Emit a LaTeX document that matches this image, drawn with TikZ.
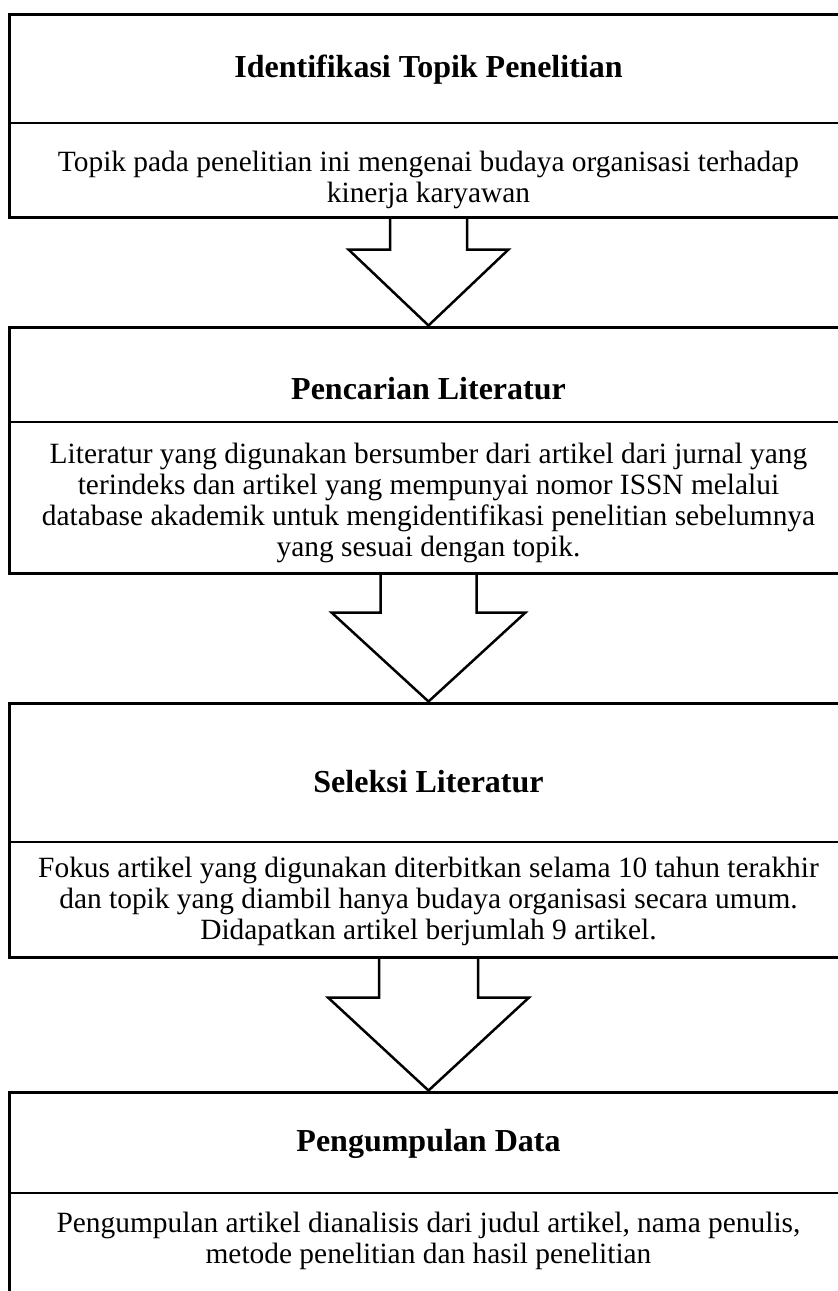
\documentclass[tikz,border=0pt]{standalone}
\usepackage{fontspec}
\setmainfont{Liberation Serif}
\usetikzlibrary{calc}

% panah blok: dari, ke, setengah badan, setengah kepala, tinggi badan
\newcommand{\panahblok}[5]{%
  \draw[panah] ($(#1.south)+(-#3,0)$) -- ($(#1.south)+(-#3,#5)$)
    -- ($(#1.south)+(-#4,#5)$) -- (#2.north) -- ($(#1.south)+(#4,#5)$)
    -- ($(#1.south)+(#3,#5)$) -- ($(#1.south)+(#3,0)$);}

\begin{document}
\begin{tikzpicture}[x=1pt, y=-1pt,
  kotak/.style = {draw, line width=3pt, inner sep=0pt, minimum width=839pt},
  judul/.style = {font=\bfseries\fontsize{32}{36}\selectfont},
  isi/.style = {align=center, font=\fontsize{29.4}{31}\selectfont},
  sekat/.style = {line width=2pt},
  panah/.style = {line width=2.5pt, line join=miter}]
\useasboundingbox[fill=white] (0,0) rectangle (838,1291);

\node[kotak, minimum height=203pt] (kotak1) at (428.5,115.5) {};
\node[kotak, minimum height=246pt] (kotak2) at (428.5,450) {};
\node[kotak, minimum height=254pt] (kotak3) at (428.5,830) {};
\node[kotak, minimum height=218pt] (kotak4) at (428.5,1201) {};

\draw[sekat] (kotak1.west |- 0,123) -- (kotak1.east |- 0,123);
\draw[sekat] (kotak2.west |- 0,422) -- (kotak2.east |- 0,422);
\draw[sekat] (kotak3.west |- 0,842) -- (kotak3.east |- 0,842);
\draw[sekat] (kotak4.west |- 0,1193) -- (kotak4.east |- 0,1193);

\node[judul] (judul1) at (428.5,70) {Identifikasi Topik Penelitian};
\node[isi] (isi1) at (428.5,180) {Topik pada penelitian ini mengenai budaya organisasi terhadap\\
  kinerja karyawan};

\node[judul] (judul2) at (428.5,389) {Pencarian Literatur};
\node[isi] (isi2) at (428.5,503) {Literatur yang digunakan bersumber dari artikel dari jurnal yang\\
  terindeks dan artikel yang mempunyai nomor ISSN melalui\\
  database akademik untuk mengidentifikasi penelitian sebelumnya\\
  yang sesuai dengan topik.};

\node[judul] (judul3) at (428.5,782) {Seleksi Literatur};
\node[isi] (isi3) at (428.5,901) {Fokus artikel yang digunakan diterbitkan selama 10 tahun terakhir\\
  dan topik yang diambil hanya budaya organisasi secara umum.\\
  Didapatkan artikel berjumlah 9 artikel.};

\node[judul] (judul4) at (428.5,1144) {Pengumpulan Data};
\node[isi] (isi4) at (428.5,1241) {Pengumpulan artikel dianalisis dari judul artikel, nama penulis,\\
  metode penelitian dan hasil penelitian};

\panahblok{kotak1}{kotak2}{38.5}{80}{31}
\panahblok{kotak2}{kotak3}{48}{97}{38}
\panahblok{kotak3}{kotak4}{49.5}{100.5}{39}
\end{tikzpicture}
\end{document}
